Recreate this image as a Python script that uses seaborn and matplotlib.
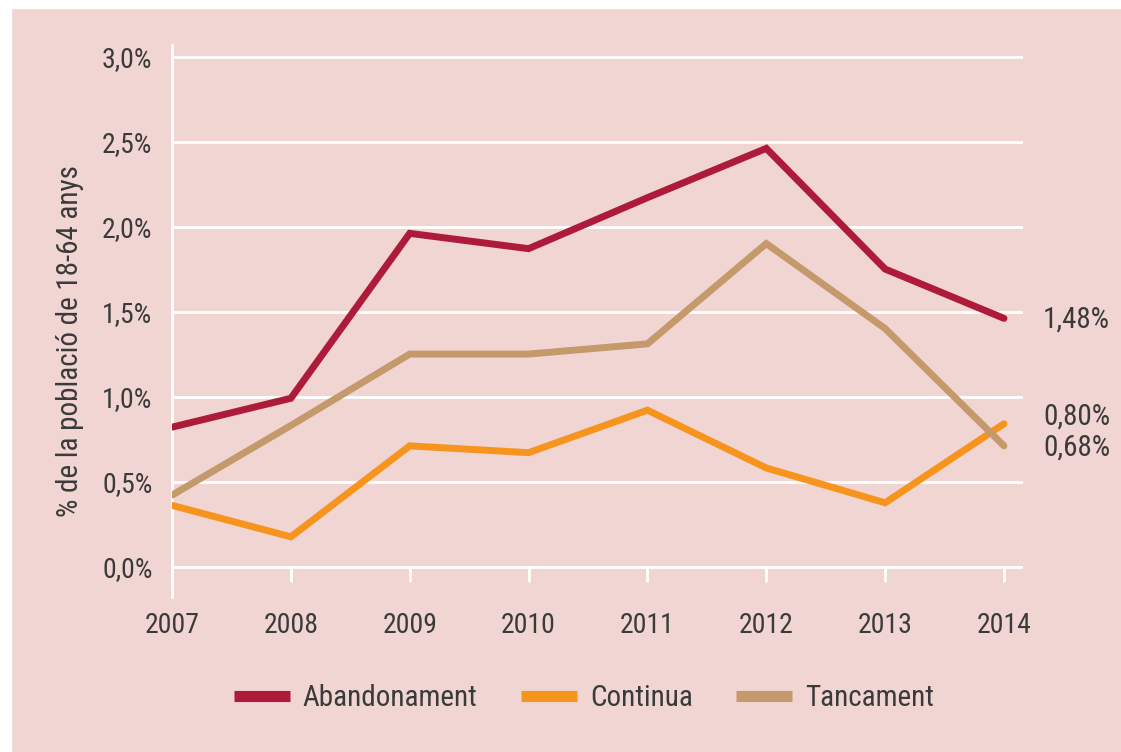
import matplotlib
matplotlib.use("Agg")
import matplotlib.pyplot as plt
import matplotlib.ticker as mticker
from matplotlib import font_manager
from matplotlib.patches import Rectangle
import seaborn as sns
import pandas as pd

# ---- data ----
years = [2007, 2008, 2009, 2010, 2011, 2012, 2013, 2014]
abandonament = [0.82, 0.99, 1.96, 1.87, 2.17, 2.46, 1.75, 1.46]
continua = [0.36, 0.175, 0.71, 0.67, 0.92, 0.58, 0.375, 0.84]
tancament = [0.42, 0.83, 1.25, 1.25, 1.31, 1.90, 1.40, 0.71]
series_names = ["Abandonament", "Continua", "Tancament"]
series_colors = ["#ad1a3a", "#f7941e", "#c49a6c"]
end_labels = ["1,48%", "0,80%", "0,68%"]
end_label_y = [1.455, 0.88, 0.70]
y_ticks = [0.0, 0.5, 1.0, 1.5, 2.0, 2.5, 3.0]
y_label = "% de la població de 18-64 anys"

df = pd.DataFrame({
    "year": years * 3,
    "value": abandonament + continua + tancament,
    "serie": [n for n in series_names for _ in years],
})

# ---- fonts ----
avail = {f.name for f in font_manager.fontManager.ttflist}
fam = "Roboto"
for cand in ["Liberation Sans Narrow", "DejaVu Sans Condensed", "Roboto Condensed", "Open Sans Condensed"]:
    if cand in avail:
        fam = cand
        break

sns.set_theme(style="white")
plt.rcParams["font.family"] = [fam, "DejaVu Sans"]
txt = "#3a3a3a"
bg = "#f0d5d2"

fig = plt.figure(figsize=(11.21, 7.52), dpi=100, facecolor=bg)
# white margins at left and top, as in the scan
fig.patches.append(Rectangle((0, 0), 11 / 1121, 1, transform=fig.transFigure, color="white", zorder=0))
fig.patches.append(Rectangle((0, 1 - 8 / 752), 1, 8 / 752, transform=fig.transFigure, color="white", zorder=0))

ax = fig.add_axes([172 / 1121, 1 - 597 / 752, (1023 - 172) / 1121, (597 - 45) / 752])
ax.set_facecolor(bg)

sns.lineplot(data=df, x="year", y="value", hue="serie", palette=series_colors,
             hue_order=series_names, linewidth=5, ax=ax, legend=True, zorder=3)
for ln in ax.lines:
    ln.set_solid_joinstyle("miter")

ax.set_xlim(2007, 2014.16)
ax.set_ylim(-0.179, 3.068)
ax.set_yticks(y_ticks)
ax.yaxis.set_major_formatter(mticker.FuncFormatter(lambda v, p: f"{v:.1f}%".replace(".", ",")))
ax.set_xticks(years)
ax.set_xticklabels([str(y) for y in years])

ax.grid(axis="y", color="white", linewidth=2, zorder=1)
ax.grid(axis="x", visible=False)
for s in ["top", "right"]:
    ax.spines[s].set_visible(False)
ax.spines["left"].set_color("white")
ax.spines["left"].set_linewidth(2)
ax.spines["bottom"].set_position(("data", 0))
ax.spines["bottom"].set_color("none")

ax.tick_params(axis="x", bottom=True, direction="out", length=11, width=2, color="white",
               labelsize=20, labelcolor=txt, pad=22)
ax.tick_params(axis="y", left=False, length=0, labelsize=20, labelcolor=txt, pad=14)

ax.set_xlabel("")
ax.set_ylabel(y_label, fontsize=21, color=txt, labelpad=8)
ax.yaxis.set_label_coords(-0.103, 0.464)

for lab, yv in zip(end_labels, end_label_y):
    ax.text(2014.33, yv, lab, fontsize=21, color=txt, ha="left", va="center")

handles, labels = ax.get_legend_handles_labels()
ax.legend(handles, labels, loc="center", bbox_to_anchor=(584 / 1121, 1 - 698 / 752),
          bbox_transform=fig.transFigure, ncol=3, frameon=False, fontsize=21,
          handlelength=1.9, handletextpad=0.45, columnspacing=1.5, labelcolor=txt)
for h in ax.get_legend().get_lines():
    h.set_linewidth(8)
    h.set_solid_capstyle("butt")

fig.savefig("out.png", dpi=100, facecolor=bg)
